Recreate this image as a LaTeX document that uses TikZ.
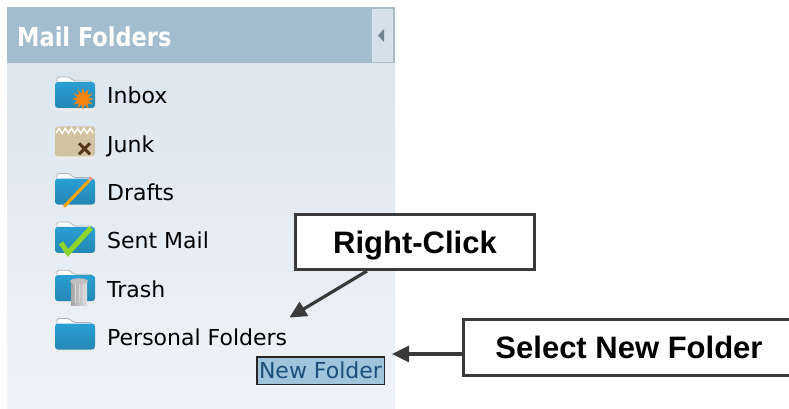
\documentclass[tikz,border=0pt]{standalone}
\usepackage{fontspec}
\usepackage{graphicx}
\newfontfamily\uifont{DejaVu Sans}
\newfontfamily\calloutfont{Liberation Sans}
\usepackage{tikz}
\usetikzlibrary{positioning,arrows.meta}
\definecolor{panelhead}{HTML}{A3BDCE}
\definecolor{paneltop}{HTML}{DCE6EE}
\definecolor{panelbot}{HTML}{EFF3F7}
\definecolor{panelbtn}{HTML}{D5E1EA}
\definecolor{folderblue}{HTML}{2A9FD3}
\definecolor{junktan}{HTML}{D3C2A2}
\definecolor{inboxorange}{HTML}{F7860F}
\definecolor{checkgreen}{HTML}{8ED62A}
\definecolor{selfill}{HTML}{A0C4DC}
\definecolor{seltext}{HTML}{1C4F7A}
\definecolor{calldark}{HTML}{3A3A3A}
\tikzstyle{callbox} = [draw=calldark, line width=3pt, fill=white, inner sep=0pt,
  font=\calloutfont\bfseries\fontsize{31}{31}\selectfont, text height=22pt, text depth=0pt]
\tikzstyle{calllink} = [draw=calldark, line width=3.2pt, -{Triangle[length=17pt,width=16pt]}]
\tikzstyle{itemlabel} = [anchor=base west, inner sep=0pt, font=\uifont\fontsize{22}{22}\selectfont]
\newcommand{\folderbody}[1]{% #1: body colour
  \fill[black!8, rounded corners=2pt] (1,31) rectangle (40,36);
  \filldraw[fill=white, draw=black!30, line width=0.8pt, rounded corners=2pt]
    (2,10) -- (2,2) -- (15,2) -- (18,6) -- (37,6) -- (37,10);
  \shade[rounded corners=3pt, top color=#1, bottom color=#1!85!black] (0,7) rectangle (40,33);
}
\newcommand{\folderrow}[4]{% #1: name; #2: baseline; #3: label; #4: icon
  \begin{scope}[shift={(55,#2-29)}]
    #4
  \end{scope}
  \node[itemlabel] (#1) at (107,#2) {#3};
}

\begin{document}
\begin{tikzpicture}[x=1pt, y=-1pt]
        \useasboundingbox (0,0) rectangle (789,409);
        % panel
        \shade[top color=paneltop, bottom color=panelbot] (7,63) rectangle (395,409);
        \fill[panelhead] (7,7) rectangle (395,63);
        \filldraw[fill=panelbtn, draw=white!60!panelhead] (372,9) rectangle (392,61);
        \fill[black!30!panelhead] (384,29) -- (384,42) -- (378,35.5) -- cycle;
        \node[anchor=base west, inner sep=0pt, text=white,
          font=\uifont\bfseries\fontsize{26}{26}\selectfont] (head) at (17,47)
          {\scalebox{0.865}[1]{Mail Folders}};
        % folders
        \folderrow{inbox}{104}{Inbox}{\folderbody{folderblue}
          \fill[inboxorange, shift={(28,24)}] (0:11)
            \foreach \a in {0,30,...,330} { -- (\a+15:6) -- (\a+30:11) } -- cycle;}
        \folderrow{junk}{152.3}{Junk}{%
          \fill[black!8, rounded corners=2pt] (1,31) rectangle (40,36);
          \fill[junktan, rounded corners=3pt] (0,3) rectangle (40,33);
          \draw[white, line width=1.5pt] (1,10) \foreach \i in {1,...,6} { -- ++(3,-5) -- ++(3.2,5) };
          \draw[brown!45!black, line width=3pt] (24,20) -- (35,31) (35,20) -- (24,31);}
        \folderrow{drafts}{200.6}{Drafts}{\folderbody{folderblue}
          \draw[orange!70!yellow, line width=3pt] (9,35) -- (34,9);
          \draw[pink!80!red, line width=3pt] (34,9) -- (37,6);}
        \folderrow{sent}{248.9}{Sent Mail}{\folderbody{folderblue}
          \draw[checkgreen, line width=5pt] (6,23) -- (13,33) -- (36,8);}
        \folderrow{trash}{297.2}{Trash}{\folderbody{folderblue}
          \shade[left color=gray!70, right color=gray!25] (16,13) rectangle (32,37);
          \draw[gray!30, line width=1pt] (20,16) -- (20,35) (24,16) -- (24,35) (28,16) -- (28,35);
          \fill[gray!50] (24,13) ellipse (9 and 3);}
        \folderrow{personal}{345.5}{Personal Folders}{\folderbody{folderblue}}
        \node[draw=black!85, line width=1.5pt, fill=selfill, inner sep=0pt,
          minimum width=127.5pt, minimum height=27.5pt, text=seltext,
          font=\uifont\fontsize{22}{22}\selectfont, text height=16pt, text depth=0pt]
          (newfolder) at (320.5,370.5) {New Folder};
        % callouts
        \node[callbox, minimum width=239pt, minimum height=55pt] (rclick) at (415,242) {Right-Click};
        \node[callbox, minimum width=331pt, minimum height=56pt] (selnew) at (629,347.5) {Select New Folder};
        \coordinate (pftip) at ([xshift=2pt, yshift=11pt]personal.north east);
        \coordinate (nftip) at ([xshift=7pt, yshift=2pt]newfolder.north east);
        \draw[calllink] ([xshift=-48pt]rclick.south) -- (pftip);
        \draw[calllink] (selnew.west |- nftip) -- (nftip);
      \end{tikzpicture}
\end{document}
